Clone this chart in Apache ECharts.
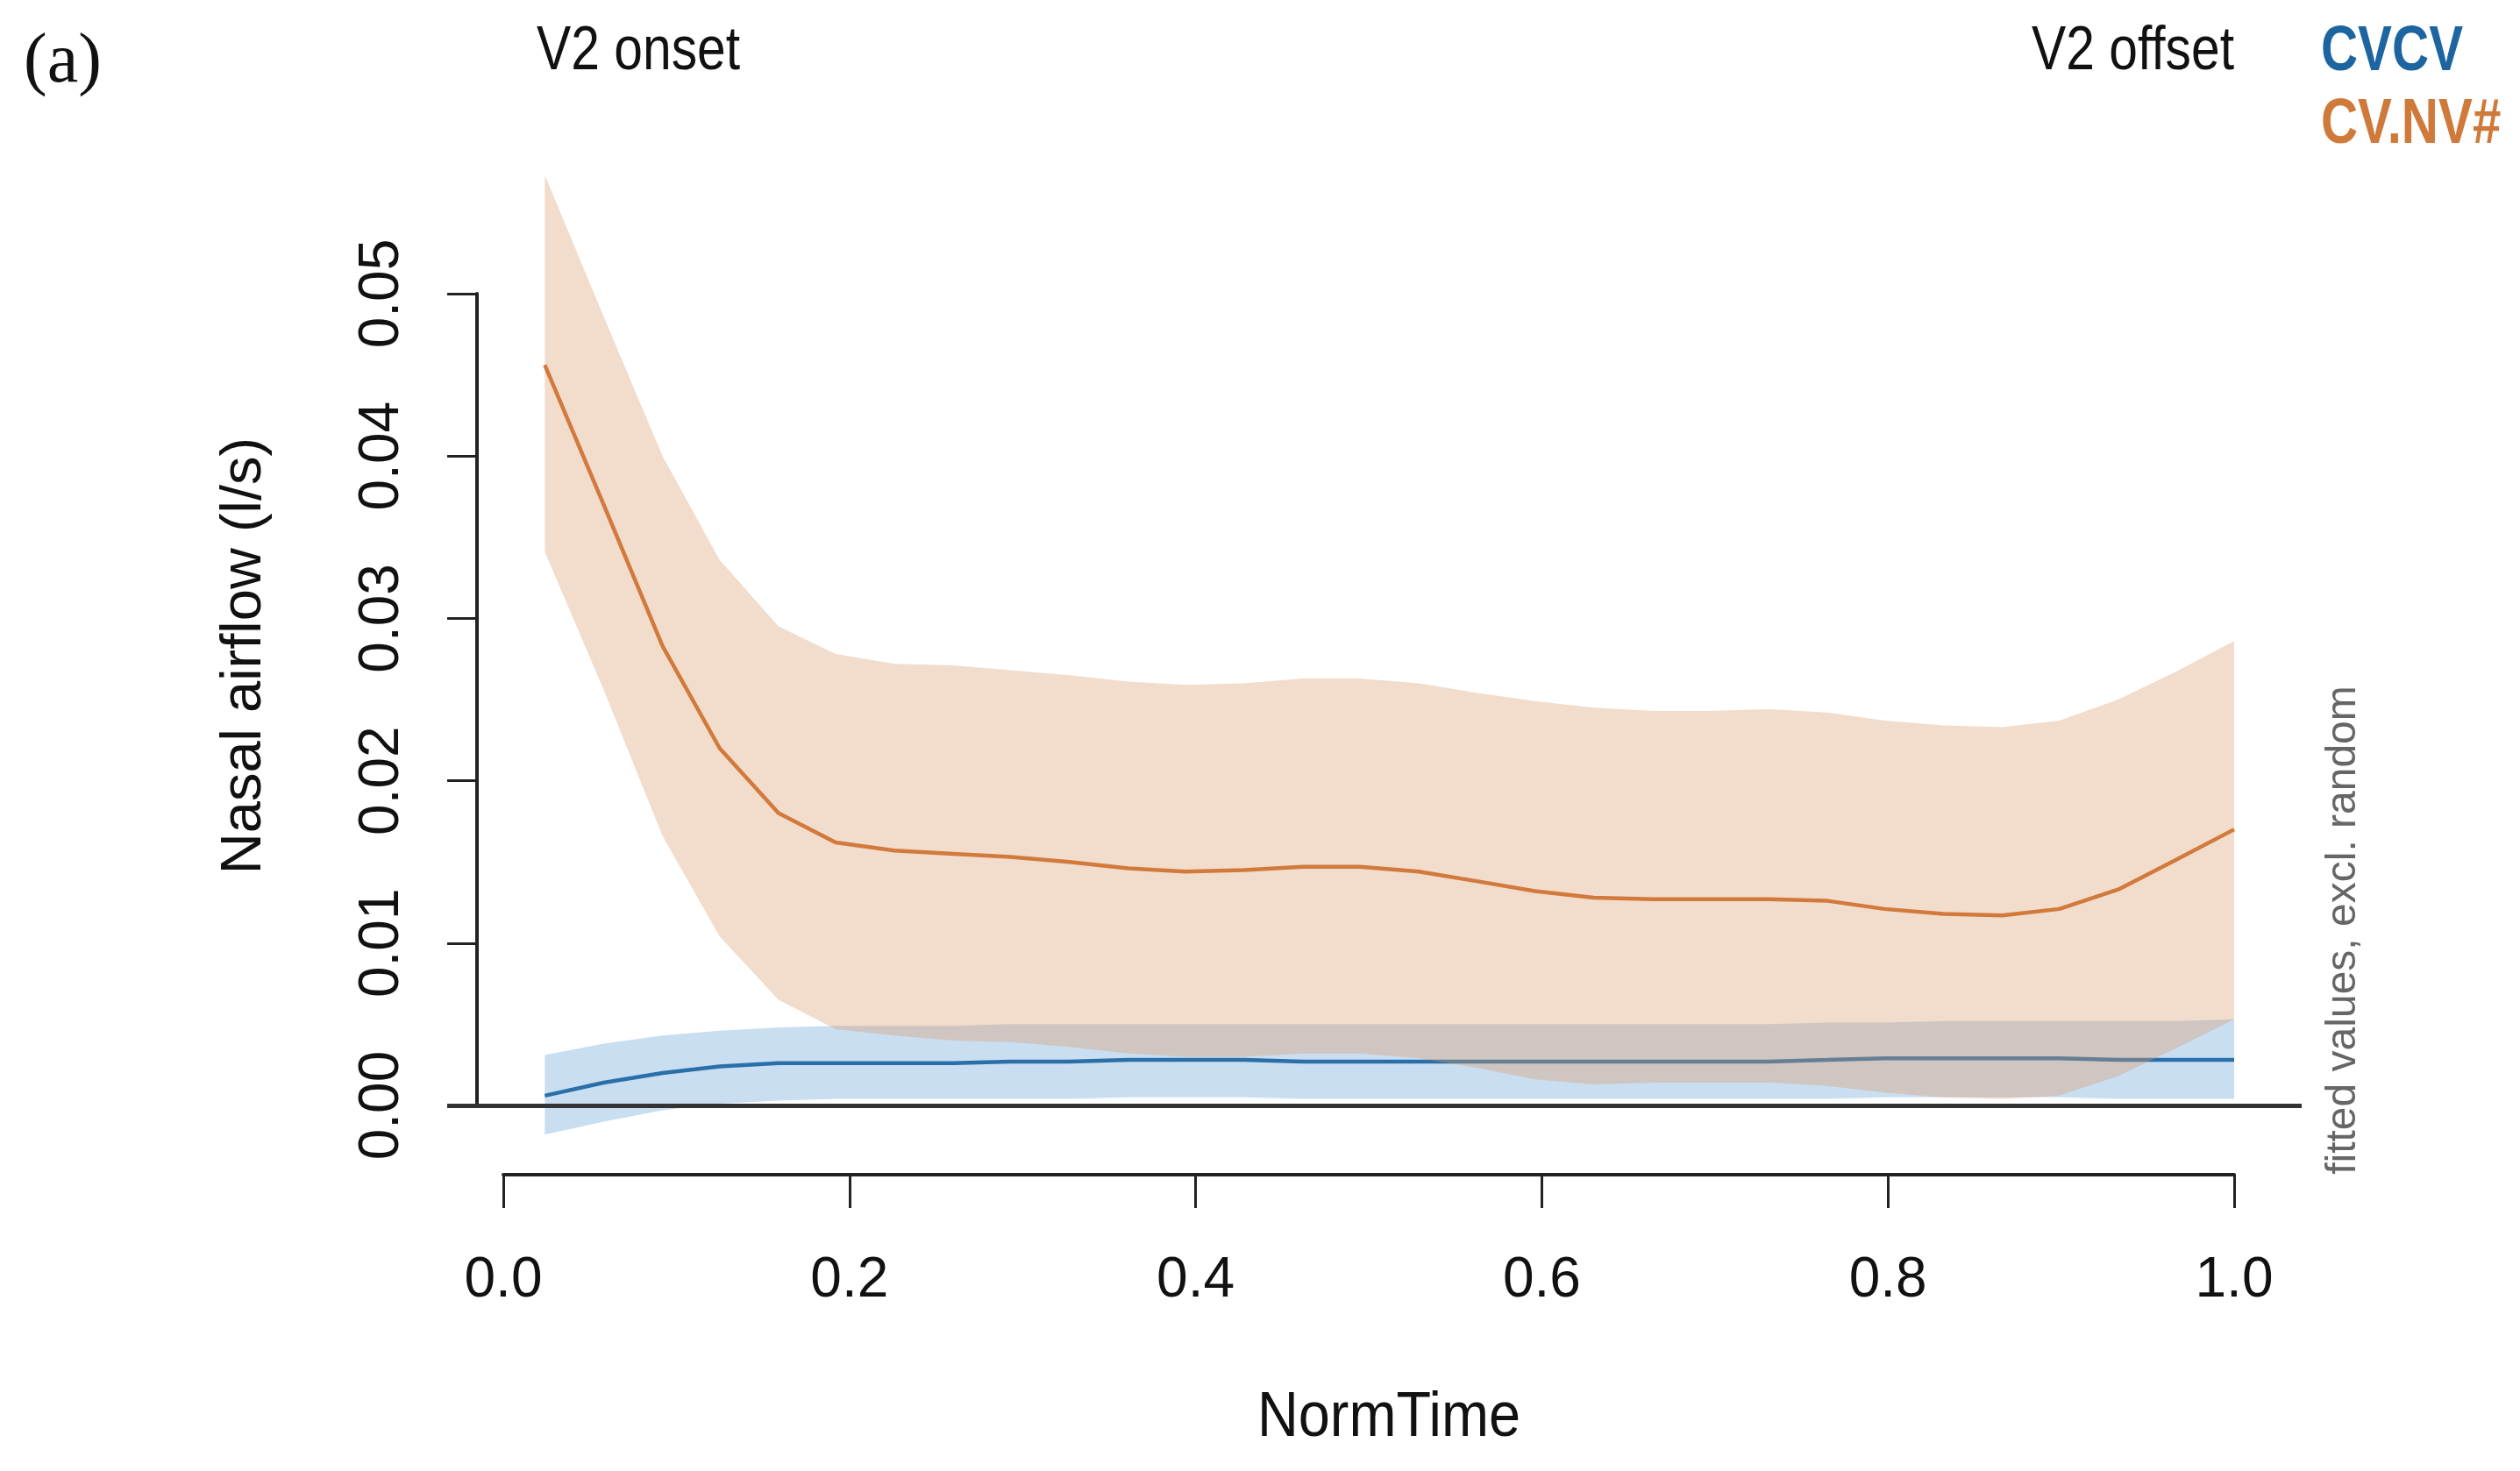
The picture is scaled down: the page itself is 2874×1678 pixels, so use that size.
<!DOCTYPE html>
<html>
<head>
<meta charset="utf-8">
<script src="https://cdn.jsdelivr.net/npm/echarts@6/dist/echarts.min.js"></script>
<style>
html,body{margin:0;padding:0;background:#fff;}
#chart{width:2874px;height:1678px;}
</style>
</head>
<body>
<div id="chart"></div>
<script>
// ---- data ----
const normTime = [0.024, 0.058, 0.092, 0.125, 0.159, 0.192, 0.226, 0.260, 0.293, 0.327,
                  0.361, 0.394, 0.428, 0.462, 0.495, 0.529, 0.563, 0.596, 0.630, 0.664,
                  0.697, 0.731, 0.765, 0.798, 0.832, 0.866, 0.899, 0.933, 0.966, 1.000];

const cvnvFit   = [0.0456,0.0370,0.0283,0.0220,0.0180,0.0162,0.0157,0.0155,0.0153,0.0150,
                   0.0146,0.0144,0.0145,0.0147,0.0147,0.0144,0.0138,0.0132,0.0128,0.0127,
                   0.0127,0.0127,0.0126,0.0121,0.0118,0.0117,0.0121,0.0133,0.0151,0.0170];
const cvnvUpper = [0.0573,0.0486,0.0400,0.0336,0.0295,0.0278,0.0272,0.0271,0.0268,0.0265,
                   0.0261,0.0259,0.0260,0.0263,0.0263,0.0260,0.0254,0.0249,0.0245,0.0243,
                   0.0243,0.0244,0.0242,0.0237,0.0234,0.0233,0.0237,0.0250,0.0267,0.0286];
const cvnvLower = [0.0341,0.0256,0.0166,0.0104,0.0065,0.0047,0.0043,0.0040,0.0039,0.0036,
                   0.0032,0.0030,0.0030,0.0032,0.0032,0.0029,0.0023,0.0016,0.0013,0.0014,
                   0.0014,0.0014,0.0012,0.0008,0.0005,0.0004,0.0006,0.0018,0.0035,0.0053];

const cvcvFit   = [0.0006,0.0014,0.0020,0.0024,0.0026,0.0026,0.0026,0.0026,0.0027,0.0027,
                   0.0028,0.0028,0.0028,0.0027,0.0027,0.0027,0.0027,0.0027,0.0027,0.0027,
                   0.0027,0.0027,0.0028,0.0029,0.0029,0.0029,0.0029,0.0028,0.0028,0.0028];
const cvcvUpper = [0.0031,0.0038,0.0043,0.0046,0.0048,0.0049,0.0049,0.0049,0.0050,0.0050,
                   0.0050,0.0050,0.0050,0.0050,0.0050,0.0050,0.0050,0.0050,0.0050,0.0050,
                   0.0050,0.0050,0.0051,0.0051,0.0052,0.0052,0.0052,0.0052,0.0052,0.0053];
const cvcvLower = [-0.0018,-0.0010,-0.0003,0.0001,0.0003,0.0004,0.0004,0.0004,0.0004,0.0004,
                   0.0005,0.0005,0.0005,0.0004,0.0004,0.0004,0.0004,0.0004,0.0004,0.0004,
                   0.0004,0.0004,0.0004,0.0005,0.0005,0.0005,0.0005,0.0004,0.0004,0.0004];

const groupNames = ['CVCV', 'CV.NV#'];

// ---- helpers building series data from arrays ----
const pairs = (ys) => normTime.map((t, i) => [t, ys[i]]);
const bandData = (lo, up) => normTime.map((t, i) => [t, lo[i], up[i]]);

function bandRenderer(lo, up, fill) {
  return function (params, api) {
    if (params.dataIndex !== 0) return null;
    const pts = [];
    for (let i = 0; i < normTime.length; i++) pts.push(api.coord([normTime[i], up[i]]));
    for (let i = normTime.length - 1; i >= 0; i--) pts.push(api.coord([normTime[i], lo[i]]));
    return {type: 'polygon', shape: {points: pts}, style: {fill: fill, stroke: null}};
  };
}

const REG = "'Liberation Sans', Arial, Helvetica, sans-serif";

const chart = echarts.init(document.getElementById('chart'), null, {renderer: 'canvas'});

const option = {
  backgroundColor: '#ffffff',
  animation: false,
  grid: [
    {left: 510, right: 249, top: 186.8, bottom: 380},
    {left: 574, right: 326, top: 186.8, bottom: 380},
    {left: 544, width: 100, top: 335, bottom: 417}
  ],
  xAxis: [
    {gridIndex: 0, type: 'value', min: -0.0324, max: 1.0390, show: false},
    {gridIndex: 1, type: 'value', min: 0, max: 1, interval: 0.2, position: 'bottom', offset: 42,
      axisLine: {show: true, onZero: false, lineStyle: {color: '#222', width: 4}},
      axisTick: {show: true, length: 38, lineStyle: {color: '#222', width: 3}},
      splitLine: {show: false},
      axisLabel: {show: true, margin: 89, fontFamily: REG, fontSize: 64, color: '#111',
        formatter: (v) => v.toFixed(1)}
    },
    {gridIndex: 2, type: 'value', show: false}
  ],
  yAxis: [
    {gridIndex: 0, type: 'value', min: -0.002, max: 0.058, show: false},
    {gridIndex: 1, type: 'value', min: -0.002, max: 0.058, show: false},
    {gridIndex: 2, type: 'value', min: 0, max: 0.05, interval: 0.01, position: 'left',
      axisLine: {show: true, onZero: false, lineStyle: {color: '#222', width: 4}},
      axisTick: {show: true, length: 34, lineStyle: {color: '#222', width: 3}},
      splitLine: {show: false},
      axisLabel: {show: true, rotate: 90, margin: 76, fontFamily: REG, fontSize: 64, color: '#111',
        formatter: (v) => v.toFixed(2)}
    }
  ],
  series: [
    {name: groupNames[0] + ' CI', type: 'custom', xAxisIndex: 0, yAxisIndex: 0,
      data: bandData(cvcvLower, cvcvUpper), encode: {x: 0, y: [1, 2]},
      renderItem: bandRenderer(cvcvLower, cvcvUpper, 'rgba(100,160,215,0.35)'),
      silent: true, z: 2},
    {name: groupNames[0], type: 'line', xAxisIndex: 0, yAxisIndex: 0,
      data: pairs(cvcvFit), symbol: 'none',
      lineStyle: {color: '#2b6fa9', width: 4.5}, z: 3,
      markLine: {silent: true, symbol: 'none', label: {show: false},
        lineStyle: {color: '#333', width: 5, type: 'solid'},
        data: [{yAxis: 0}]}
    },
    {name: groupNames[1] + ' CI', type: 'custom', xAxisIndex: 0, yAxisIndex: 0,
      data: bandData(cvnvLower, cvnvUpper), encode: {x: 0, y: [1, 2]},
      renderItem: bandRenderer(cvnvLower, cvnvUpper, 'rgba(218,156,107,0.35)'),
      silent: true, z: 4},
    {name: groupNames[1], type: 'line', xAxisIndex: 0, yAxisIndex: 0,
      data: pairs(cvnvFit), symbol: 'none',
      lineStyle: {color: '#d27a3c', width: 4.5}, z: 5}
  ],
  graphic: [
    {type: 'text', x: 27, y: 72, style: {text: '(a)', font: "80px 'Liberation Serif', 'Times New Roman', serif", fill: '#111', textAlign: 'left', textVerticalAlign: 'middle'}},
    {type: 'text', x: 612, y: 60, scaleX: 0.84, style: {text: 'V2 onset', font: '70px ' + REG, fill: '#111', textAlign: 'left', textVerticalAlign: 'middle'}},
    {type: 'text', x: 2548, y: 60, scaleX: 0.84, style: {text: 'V2 offset', font: '70px ' + REG, fill: '#111', textAlign: 'right', textVerticalAlign: 'middle'}},
    {type: 'text', x: 2647, y: 60, scaleX: 0.81, style: {text: groupNames[0], font: 'bold 72px ' + REG, fill: '#1c65a1', textAlign: 'left', textVerticalAlign: 'middle'}},
    {type: 'text', x: 2647, y: 143, scaleX: 0.81, style: {text: groupNames[1], font: 'bold 72px ' + REG, fill: '#cf7a3a', textAlign: 'left', textVerticalAlign: 'middle'}},
    {type: 'text', x: 279, y: 748, rotation: Math.PI / 2, style: {text: 'Nasal airflow (l/s)', font: '65px ' + REG, fill: '#111', textAlign: 'center', textVerticalAlign: 'middle'}},
    {type: 'text', x: 1584, y: 1618, scaleX: 0.9, style: {text: 'NormTime', font: '72px ' + REG, fill: '#111', textAlign: 'center', textVerticalAlign: 'middle'}},
    {type: 'text', x: 2673, y: 1061, rotation: Math.PI / 2, style: {text: 'fitted values, excl. random', font: '48px ' + REG, fill: '#666', textAlign: 'center', textVerticalAlign: 'middle'}}
  ]
};
chart.setOption(option);
</script>
</body>
</html>
